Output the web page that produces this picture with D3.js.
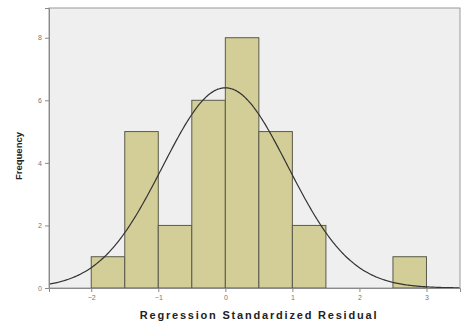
<!DOCTYPE html>
<html>
<head>
<meta charset="utf-8">
<script src="https://cdn.jsdelivr.net/npm/d3@7"></script>
<style>
  body { margin: 0; background: #fff; }
  svg { display: block; font-family: "Liberation Sans", Arial, sans-serif; }
</style>
</head>
<body>
<div id="chart"></div>
<script>
// Histogram bins (lower edge), bin width 0.5
const binStarts = [-2, -1.5, -1, -0.5, 0, 0.5, 1, 1.5, 2, 2.5];
const counts = [1, 5, 2, 6, 8, 5, 2, 0, 0, 1];
const binWidth = 0.5;
// fitted normal curve parameters
const meanResid = 0.0;
const sdResid = 0.935;
const xTicks = [-2, -1, 0, 1, 2, 3];
const yTicks = [0, 2, 4, 6, 8];

const margin = { top: 8, right: 1, bottom: 36, left: 49 },
      width = 461 - margin.left - margin.right,
      height = 324 - margin.top - margin.bottom;

const svg = d3.select("#chart")
  .append("svg")
  .attr("width", 461)
  .attr("height", 324);

const g = svg.append("g")
  .attr("transform", `translate(${margin.left},${margin.top})`);

const x = d3.scaleLinear().domain([-2.63, 3.5]).range([0, width]);
const y = d3.scaleLinear().domain([0, 8.95]).range([height, 0]);

// plot background
g.append("rect")
  .attr("width", width)
  .attr("height", height)
  .attr("fill", "#efefef")
  .attr("stroke", "#9a9a9a")
  .attr("stroke-width", 1);

// bars
g.selectAll(".bar")
  .data(binStarts.map((b, i) => ({ x0: b, n: counts[i] })).filter(d => d.n > 0))
  .join("rect")
  .attr("class", "bar")
  .attr("x", d => x(d.x0))
  .attr("y", d => y(d.n))
  .attr("width", d => x(d.x0 + binWidth) - x(d.x0))
  .attr("height", d => y(0) - y(d.n))
  .attr("fill", "#d3cd98")
  .attr("stroke", "#5a5a4a")
  .attr("stroke-width", 1);

// normal curve
const total = d3.sum(counts);
const xs = d3.range(-2.63, 3.5, 0.02);
const curve = d3.line()
  .x(d => x(d))
  .y(d => y(total * binWidth * Math.exp(-0.5 * ((d - meanResid) / sdResid) ** 2) / (sdResid * Math.sqrt(2 * Math.PI))))
  .curve(d3.curveBasis);
g.append("path")
  .attr("d", curve(xs))
  .attr("fill", "none")
  .attr("stroke", "#333")
  .attr("stroke-width", 1.2);

// axes
const xAxis = g.append("g")
  .attr("transform", `translate(0,${height})`)
  .call(d3.axisBottom(x).tickValues(xTicks).tickSize(4).tickFormat(d3.format("d")));
const yAxis = g.append("g")
  .call(d3.axisLeft(y).tickValues(yTicks).tickSize(4).tickFormat(d3.format("d")));
[xAxis, yAxis].forEach(a => {
  a.select(".domain").attr("stroke", "#8a8a8a");
  a.selectAll(".tick line").attr("stroke", "#8a8a8a");
  a.selectAll(".tick text").attr("fill", "#777").style("font-size", "7px");
});

// axis titles
svg.append("text")
  .attr("x", 259)
  .attr("y", 319)
  .attr("text-anchor", "middle")
  .style("font-size", "11px")
  .style("font-weight", "bold")
  .style("letter-spacing", "1.8px")
  .attr("fill", "#222")
  .text("Regression Standardized Residual");

svg.append("text")
  .attr("transform", "translate(22,156) rotate(-90)")
  .attr("text-anchor", "middle")
  .style("font-size", "9.5px")
  .style("font-weight", "bold")
  .attr("fill", "#222")
  .text("Frequency");
</script>
</body>
</html>
